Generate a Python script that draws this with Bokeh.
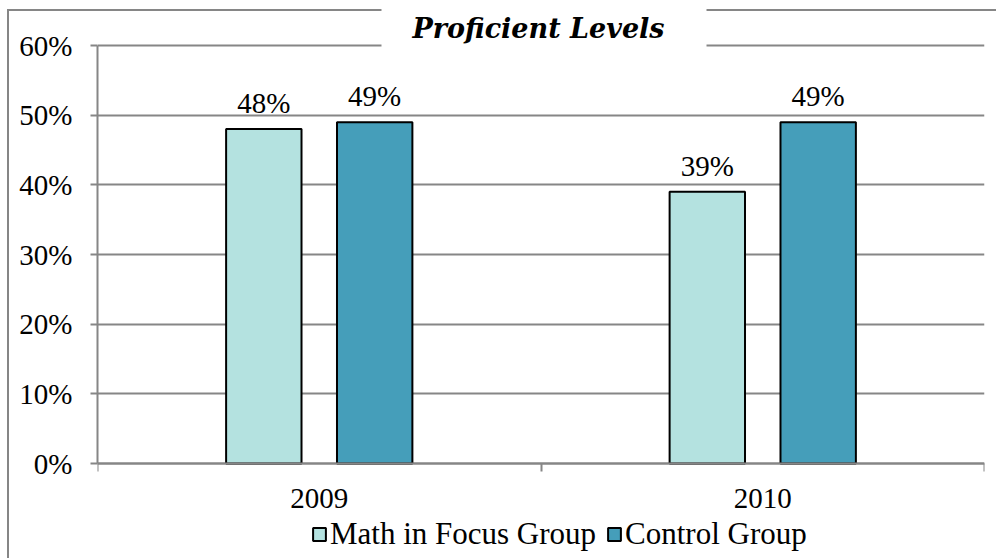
from bokeh.plotting import figure
from bokeh.models import (ColumnDataSource, FixedTicker, NumeralTickFormatter, Range1d,
                          Legend, LegendItem, LabelSet, Label)
from bokeh.transform import dodge
from bokeh.embed import file_html
from bokeh.resources import INLINE

categories = ["2009", "2010"]
series_names = ["Math in Focus Group", "Control Group"]
math_focus = [0.48, 0.39]
control = [0.49, 0.49]
y_ticks = [0, 0.1, 0.2, 0.3, 0.4, 0.5, 0.6]
title_text = "Proficient Levels"

LIGHT = "#b4e2e0"
DARK = "#459eba"
GRID = "#868686"
FONT = "Liberation Serif"

# layout (pixels)
W, H = 996, 558
PX_TOP, PX_ZERO = 45, 463          # where 60% and 0% sit
y_max = max(y_ticks)
k = (PX_ZERO - PX_TOP) / y_max      # pixels per unit
y_end = y_max + PX_TOP / k
y_start = -(H - PX_ZERO) / k

p = figure(width=W, height=H, output_backend="svg", toolbar_location=None, title=None,
           x_range=Range1d(0, len(categories)), y_range=Range1d(y_start, y_end),
           min_border_left=97, min_border_right=12, min_border_top=0, min_border_bottom=0)
p.outline_line_color = None
p.background_fill_alpha = 0
p.border_fill_alpha = 0
# outer chart border (left and top edges; the rest lies outside the picture)
p.styles = {
    "background-color": "white",
    "background-image": f"linear-gradient({GRID}, {GRID}), linear-gradient({GRID}, {GRID})",
    "background-size": "2px 100%, 100% 2px",
    "background-position": "7px 9px, 7px 9px",
    "background-repeat": "no-repeat",
}

centers = [i + 0.5 for i in range(len(categories))]
src = ColumnDataSource(dict(
    x=centers, math=math_focus, ctrl=control,
    math_lbl=[f"{round(v * 100)}%" for v in math_focus],
    ctrl_lbl=[f"{round(v * 100)}%" for v in control],
))

r1 = p.vbar(x=dodge("x", -0.125, range=p.x_range), top="math", bottom=0, width=0.17,
            source=src, fill_color=LIGHT, line_color="black", line_width=2)
r2 = p.vbar(x=dodge("x", 0.125, range=p.x_range), top="ctrl", bottom=0, width=0.17,
            source=src, fill_color=DARK, line_color="black", line_width=2)

for ycol, lcol, off in [("math", "math_lbl", -0.125), ("ctrl", "ctrl_lbl", 0.125)]:
    ls = LabelSet(x=dodge("x", off, range=p.x_range), y=ycol, text=lcol, source=src,
                  text_align="center", text_baseline="alphabetic", y_offset=16,
                  text_font=FONT, text_font_size="29px", text_color="black")
    p.add_layout(ls)

# grid / axes
p.xgrid.grid_line_color = None
p.ygrid.ticker = FixedTicker(ticks=y_ticks)
p.ygrid.grid_line_color = GRID
p.ygrid.grid_line_width = 2

p.yaxis.ticker = FixedTicker(ticks=y_ticks)
p.yaxis.bounds = (0, y_max)
p.yaxis.formatter = NumeralTickFormatter(format="0%")
p.yaxis.axis_line_color = GRID
p.yaxis.axis_line_width = 2
p.yaxis.major_tick_line_color = GRID
p.yaxis.major_tick_line_width = 2
p.yaxis.major_tick_out = 7
p.yaxis.major_tick_in = 0
p.yaxis.minor_tick_line_color = None
p.yaxis.major_label_standoff = 18
p.yaxis.major_label_text_font = FONT
p.yaxis.major_label_text_font_size = "29px"
p.yaxis.major_label_text_color = "black"

p.xaxis.fixed_location = 0
p.xaxis.ticker = FixedTicker(ticks=centers, minor_ticks=list(range(len(categories) + 1)))
p.xaxis.major_label_overrides = {c: lab for c, lab in zip(centers, categories)}
p.xaxis.axis_line_color = GRID
p.xaxis.axis_line_width = 2
p.xaxis.major_tick_line_color = None
p.xaxis.minor_tick_line_color = GRID
p.xaxis.minor_tick_line_width = 2
p.xaxis.minor_tick_out = 8
p.xaxis.minor_tick_in = 0
p.xaxis.major_label_standoff = 17
p.xaxis.major_label_text_font = FONT
p.xaxis.major_label_text_font_size = "29px"
p.xaxis.major_label_text_color = "black"

# title with white box that interrupts the border and the 60% gridline
title = Label(x=len(categories) / 2, y=y_max, x_offset=3, y_offset=17, text=title_text,
              text_align="center", text_baseline="middle",
              text_font="DejaVu Serif", text_font_style="bold italic",
              text_font_size="27px", text_color="black",
              background_fill_color="white",
              padding=dict(left=31, right=42, top=5, bottom=5))
p.add_layout(title)

legend = Legend(items=[LegendItem(label=series_names[0], renderers=[r1]),
                       LegendItem(label=series_names[1], renderers=[r2])],
                orientation="horizontal", location=(214, 6),
                padding=0, margin=0, spacing=10, label_standoff=3,
                glyph_width=16, glyph_height=16,
                label_text_font=FONT, label_text_font_size="31px",
                label_text_color="black",
                border_line_color=None, background_fill_alpha=0)
p.add_layout(legend)

open("out.html", "w").write(file_html(p, INLINE))
